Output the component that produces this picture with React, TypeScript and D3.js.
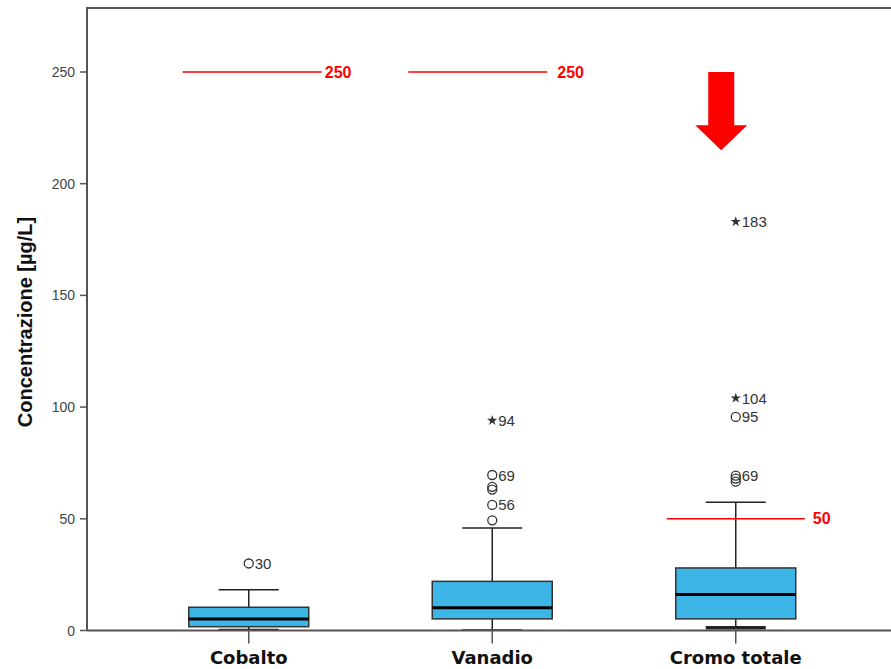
import React from "react";
import * as d3 from "d3";

const categories = ["Cobalto", "Vanadio", "Cromo totale"];
const whiskerLow = [0.5, 0.2, 1.2];
const q1 = [1.7, 5.2, 5.2];
const medians = [5.2, 10.2, 16.1];
const q3 = [10.4, 22.0, 28.0];
const whiskerHigh = [18.2, 45.9, 57.4];

const outlierCategory = [
  "Cobalto",
  "Vanadio", "Vanadio", "Vanadio", "Vanadio", "Vanadio", "Vanadio",
  "Cromo totale", "Cromo totale", "Cromo totale", "Cromo totale", "Cromo totale", "Cromo totale",
];
const outlierValue = [30, 49.3, 56.2, 63.1, 64.3, 69.6, 94, 66.6, 68.0, 69.3, 95.6, 104, 183];
const outlierKind = [
  "circle",
  "circle", "circle", "circle", "circle", "circle", "star",
  "circle", "circle", "circle", "circle", "star", "star",
];
const outlierLabel = ["30", "", "56", "", "", "69", "94", "", "", "69", "95", "104", "183"];

const refCategory = ["Cobalto", "Vanadio", "Cromo totale"];
const refValue = [250, 250, 50];
const refLabel = ["250", "250", "50"];

const arrowCategory = "Cromo totale";
const arrowFrom = 250;
const arrowTo = 215;

const yTicks = [0, 50, 100, 150, 200, 250];
const yTitle = "Concentrazione [µg/L]";

const W = 891;
const H = 669;
const axisX = 87;
const axisY = 630.5;
const topY = 8;

export default function App() {
  const y = d3.scaleLinear().domain([0, 250]).range([axisY, 72]);
  const x = d3.scaleBand<string>().domain(categories).range([127, 857.5]).paddingInner(0).paddingOuter(0);
  const cx = (c: string) => (x(c) as number) + x.bandwidth() / 2;
  const boxW = 120;
  const capW = 60;
  const axisColor = "#555";
  const fontArial = "'Liberation Sans', Arial, sans-serif";
  const starPath = d3.symbol().type(d3.symbolStar).size(34)() as string;

  // reference line horizontal offsets (annotation layout)
  const refOffsets = [
    [-66, 73, 76],
    [-84, 55, 65],
    [-69, 69, 77],
  ];

  const ax = cx(arrowCategory) - 14.5;
  const aTop = y(arrowFrom);
  const aTip = y(arrowTo);
  const shaftBottom = aTip - 25;
  const arrowPath = d3.path();
  arrowPath.moveTo(ax - 13, aTop);
  arrowPath.lineTo(ax + 13, aTop);
  arrowPath.lineTo(ax + 13, shaftBottom);
  arrowPath.lineTo(ax + 26, shaftBottom);
  arrowPath.lineTo(ax, aTip);
  arrowPath.lineTo(ax - 26, shaftBottom);
  arrowPath.lineTo(ax - 13, shaftBottom);
  arrowPath.closePath();

  return (
    <svg width={W} height={H} style={{ position: "absolute", left: 0, top: 0, background: "#fff" }}>
      <rect x={0} y={0} width={W} height={H} fill="#fff" />
      {/* frame */}
      <line x1={axisX} x2={W} y1={topY} y2={topY} stroke={axisColor} strokeWidth={2} />
      <line x1={axisX} x2={axisX} y1={topY - 1} y2={axisY} stroke={axisColor} strokeWidth={2} />

      {/* y ticks */}
      {yTicks.map((t) => (
        <g key={t}>
          <line x1={axisX - 7} x2={axisX} y1={y(t)} y2={y(t)} stroke={axisColor} strokeWidth={1.5} />
          <text
            x={axisX - 12}
            y={y(t)}
            textAnchor="end"
            dominantBaseline="central"
            fontFamily={fontArial}
            fontSize={14}
            fill="#444"
          >
            {t}
          </text>
        </g>
      ))}

      {/* y title */}
      <text
        transform={`translate(32, 322) rotate(-90)`}
        textAnchor="middle"
        fontFamily={fontArial}
        fontWeight="bold"
        fontSize={20}
        fill="#111"
      >
        {yTitle}
      </text>

      {/* boxes */}
      {categories.map((c, i) => {
        const xc = cx(c);
        return (
          <g key={c}>
            <line x1={xc} x2={xc} y1={y(q3[i])} y2={y(whiskerHigh[i])} stroke="#222" strokeWidth={1.5} />
            <line x1={xc} x2={xc} y1={y(q1[i])} y2={y(whiskerLow[i])} stroke="#222" strokeWidth={1.5} />
            <line x1={xc - capW / 2} x2={xc + capW / 2} y1={y(whiskerHigh[i])} y2={y(whiskerHigh[i])} stroke="#222" strokeWidth={1.5} />
            <line
              x1={xc - capW / 2}
              x2={xc + capW / 2}
              y1={y(whiskerLow[i])}
              y2={y(whiskerLow[i])}
              stroke="#222"
              strokeWidth={c === "Cromo totale" ? 3.5 : 1.5}
            />
            <rect
              x={xc - boxW / 2}
              y={y(q3[i])}
              width={boxW}
              height={y(q1[i]) - y(q3[i])}
              fill="#3db5e7"
              stroke="#333"
              strokeWidth={1.5}
            />
            <line x1={xc - boxW / 2} x2={xc + boxW / 2} y1={y(medians[i])} y2={y(medians[i])} stroke="#000" strokeWidth={3} />
          </g>
        );
      })}

      {/* x axis */}
      <line x1={axisX} x2={W} y1={axisY} y2={axisY} stroke={axisColor} strokeWidth={2} />
      {categories.map((c) => (
        <g key={c}>
          <line x1={cx(c)} x2={cx(c)} y1={axisY} y2={axisY + 13} stroke={axisColor} strokeWidth={1.5} />
          <text
            x={cx(c)}
            y={664}
            textAnchor="middle"
            fontFamily="'DejaVu Sans', Verdana, sans-serif"
            fontWeight="bold"
            fontSize={18}
            fill="#111"
          >
            {c}
          </text>
        </g>
      ))}

      {/* outliers */}
      {outlierValue.map((v, i) => {
        const xc = cx(outlierCategory[i]);
        const yy = y(v);
        return (
          <g key={i}>
            {outlierKind[i] === "circle" ? (
              <circle cx={xc} cy={yy} r={4.5} fill="none" stroke="#333" strokeWidth={1.3} />
            ) : (
              <path d={starPath} transform={`translate(${xc},${yy})`} fill="#333" />
            )}
            {outlierLabel[i] && (
              <text
                x={xc + 6}
                y={yy}
                dominantBaseline="central"
                fontFamily={fontArial}
                fontSize={15}
                fill="#333"
              >
                {outlierLabel[i]}
              </text>
            )}
          </g>
        );
      })}

      {/* reference lines */}
      {refValue.map((v, i) => {
        const xc = cx(refCategory[i]);
        const [a, b, l] = refOffsets[i];
        return (
          <g key={i}>
            <line x1={xc + a} x2={xc + b} y1={y(v)} y2={y(v)} stroke="#ff0000" strokeWidth={1.4} />
            <text
              x={xc + l}
              y={y(v)}
              dominantBaseline="central"
              fontFamily={fontArial}
              fontWeight="bold"
              fontSize={16}
              fill="#ff0000"
            >
              {refLabel[i]}
            </text>
          </g>
        );
      })}

      {/* arrow */}
      <path d={arrowPath.toString()} fill="#ff0000" />
    </svg>
  );
}
